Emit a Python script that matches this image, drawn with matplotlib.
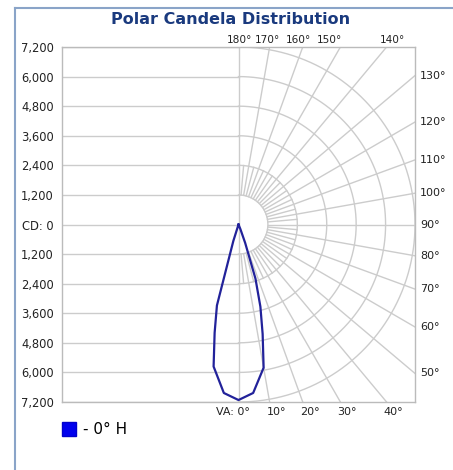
import numpy as np
import matplotlib
matplotlib.use("Agg")
import matplotlib.pyplot as plt
from matplotlib.lines import Line2D

# candela values (vertical angle in degrees)
va_angles = [0, 5, 10, 12.5, 15, 17.5, 20, 22.5, 25]
cd_right = [7120, 6860, 5900, 4550, 3450, 2300, 800, 200, 0]
cd_left = [7120, 6860, 5850, 4500, 3400, 700, 0, 0, 0]

rings = [1200, 2400, 3600, 4800, 6000, 7200]
cd_max = 7200
series_label = "- 0° H"
title = "Polar Candela Distribution"

right_labels = [50, 60, 70, 80, 90, 100, 110, 120, 130]
top_labels = [180, 170, 160, 150, 140]
top_label_x = [40, 1180, 2440, 3700, 6270]   # label centres (cd units)
bottom_labels = [0, 10, 20, 30, 40]

grid_c = "#cccccc"
txt_c = "#222222"

fig = plt.figure(figsize=(4.53, 4.70), dpi=100)
ax = fig.add_axes([62 / 453, 68 / 470, 353 / 453, 355 / 470])
ax.set_xlim(-cd_max, cd_max)
ax.set_ylim(-cd_max, cd_max)

# grid: horizontal lines on the left half, arcs on the right half
t = np.linspace(0, np.pi, 361)
for r in rings:
    ax.plot([-cd_max, 0], [r, r], color=grid_c, lw=1, zorder=1)
    ax.plot([-cd_max, 0], [-r, -r], color=grid_c, lw=1, zorder=1)
    ax.plot(r * np.sin(t), -r * np.cos(t), color=grid_c, lw=1, zorder=1)
ax.plot([-cd_max, 0], [0, 0], color=grid_c, lw=1, zorder=1)
ax.plot([0, 0], [-cd_max, cd_max], color=grid_c, lw=1, zorder=1)

# radial lines
for a in range(10, 180, 10):
    th = np.radians(a)
    rr = np.array([rings[0], 3 * cd_max])
    ax.plot(rr * np.sin(th), -rr * np.cos(th), color=grid_c, lw=1, zorder=1)
for a in range(5, 180, 10):
    th = np.radians(a)
    rr = np.array([rings[0], rings[1]])
    ax.plot(rr * np.sin(th), -rr * np.cos(th), color=grid_c, lw=1, zorder=1)

# the distribution curve (left half mirrored)
th_l = np.radians(va_angles[::-1])
th_r = np.radians(va_angles)
xs = np.concatenate([-np.array(cd_left[::-1]) * np.sin(th_l), np.array(cd_right) * np.sin(th_r)])
ys = np.concatenate([-np.array(cd_left[::-1]) * np.cos(th_l), -np.array(cd_right) * np.cos(th_r)])
ax.plot(xs, ys, color="#22229a", lw=1.6, zorder=3, solid_joinstyle="round")

# axis labels
ticks = [r for r in rings[::-1]] + [0] + [-r for r in rings]
tick_txt = [f"{abs(v):,}" if v != 0 else "CD: 0" for v in ticks]
ax.set_yticks(ticks)
ax.set_yticklabels(tick_txt)
ax.set_xticks([])
ax.tick_params(length=0, pad=6, labelsize=8.3, labelcolor=txt_c)
for s in ax.spines.values():
    s.set_color("#bbbbbb")
    s.set_linewidth(1)

for a in right_labels:
    y = -cd_max / np.tan(np.radians(a))
    ax.annotate(f"{a}°", xy=(cd_max, y), xytext=(3.5, 0), textcoords="offset points",
                ha="left", va="center", fontsize=8, color=txt_c, annotation_clip=False)
for a, x in zip(top_labels, top_label_x):
    ax.annotate(f"{a}°", xy=(x, cd_max), xytext=(0, 5), textcoords="offset points",
                ha="center", va="center", fontsize=7.6, color=txt_c, annotation_clip=False)
for a in bottom_labels:
    x = cd_max * np.tan(np.radians(a))
    if a == 0:
        ax.annotate("VA: 0°", xy=(450, -cd_max), xytext=(0, -7.5), textcoords="offset points",
                    ha="right", va="center", fontsize=8, color=txt_c, annotation_clip=False)
    else:
        ax.annotate(f"{a}°", xy=(x - 120, -cd_max), xytext=(0, -7.5), textcoords="offset points",
                    ha="left", va="center", fontsize=8, color=txt_c, annotation_clip=False)

fig.text(231 / 453, 1 - 19 / 470, title, ha="center", va="center",
         fontsize=11.5, fontweight="bold", color="#1a3a7e")

handle = Line2D([], [], marker="s", linestyle="none", markersize=10,
                markerfacecolor="#0000ee", markeredgecolor="#0000cc")
fig.legend([handle], [series_label], loc="center left",
           bbox_to_anchor=(61 / 453, 1 - 430 / 470), frameon=False,
           fontsize=11, handlelength=1.0, handletextpad=0.45, borderpad=0,
           borderaxespad=0)

# outer frame (left and top edges)
fig.add_artist(Line2D([15 / 453, 15 / 453], [0, 1 - 8 / 470], color="#8aa4c8", lw=1.5))
fig.add_artist(Line2D([15 / 453, 1], [1 - 8 / 470, 1 - 8 / 470], color="#8aa4c8", lw=1.5))

fig.savefig("out.png", dpi=100)
